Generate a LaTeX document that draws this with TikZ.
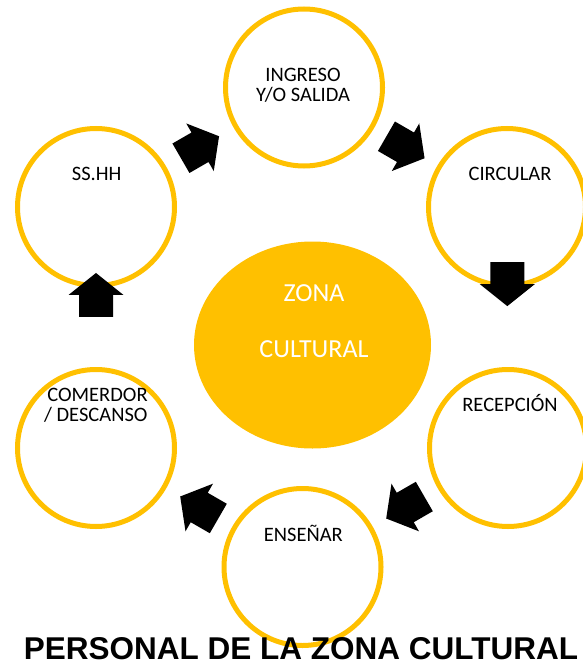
\documentclass[tikz,border=0pt]{standalone}
\usepackage{fontspec}
\setmainfont{Carlito}
\newfontfamily\titlefont{Liberation Sans}
\usetikzlibrary{shapes.geometric,calc}
\definecolor{gold}{HTML}{FFC000}
\tikzset{
  ring/.style={circle, draw=gold, line width=5pt, minimum size=157pt, inner sep=0pt},
  hub/.style={ellipse, fill=gold, draw=none, minimum width=237pt, minimum height=207pt, inner sep=0pt},
  lbl/.style={anchor=base, inner sep=0pt, font=\fontsize{20.5}{20.5}\selectfont, text=black},
  hublbl/.style={anchor=base, inner sep=0pt, font=\fontsize{26}{26}\selectfont, text=white},
  blockarrow/.pic={\fill[black] (-22,-17) -- (0,-17) -- (0,-27.5) -- (22,0) -- (0,27.5) -- (0,17) -- (-22,17) -- cycle;}
}
\begin{document}
\begin{tikzpicture}[x=1pt,y=-1pt]
\useasboundingbox (0,0) rectangle (582,666);
% central ellipse
\node[hub] (hub) at (312.5,345) {};
\node[hublbl] (hub1) at (314,301.7) {ZONA};
\node[hublbl] (hub2) at (314,357.3) {CULTURAL};
% rings
\node[ring] (ing) at (304,87.5) {};
\node[ring] (cir) at (507,207) {};
\node[ring] (rec) at (508,448) {};
\node[ring] (ens) at (302.5,567) {};
\node[ring] (com) at (96,448) {};
\node[ring] (ss) at (96,207) {};
% labels
\node[lbl] (ing1) at (303,81.7) {INGRESO};
\node[lbl] (ing2) at (303,101.7) {Y/O SALIDA};
\node[lbl] (cirl) at (510,180.7) {CIRCULAR};
\node[lbl] (recl) at (510,411.7) {RECEPCIÓN};
\node[lbl] (ensl) at (303.3,541.7) {ENSEÑAR};
\node[lbl] (com1) at (97.5,401.7) {COMERDOR};
\node[lbl] (com2) at (95.8,421.7) {/ DESCANSO};
\node[lbl] (ssl) at (96.7,180) {SS.HH};
% block arrows
\pic[rotate=30] (a1) at ($(ss)!0.5!(ing)$) {blockarrow};
\pic[rotate=-30] (a2) at ($(ing)!0.5!(cir)$) {blockarrow};
\pic[rotate=-90] (a3) at ($(cir)!0.32!(rec)$) {blockarrow};
\pic[rotate=210] (a4) at ($(rec)!0.5!(ens)$) {blockarrow};
\pic[rotate=150] (a5) at ($(ens)!0.5!(com)$) {blockarrow};
\pic[rotate=90] (a6) at ($(ss)!0.365!(com)$) {blockarrow};
% title
\node[anchor=base, inner sep=0pt, font=\titlefont\bfseries\fontsize{31.5}{31.5}\selectfont] (title) at (301,659) {PERSONAL DE LA ZONA CULTURAL};
\end{tikzpicture}
\end{document}
